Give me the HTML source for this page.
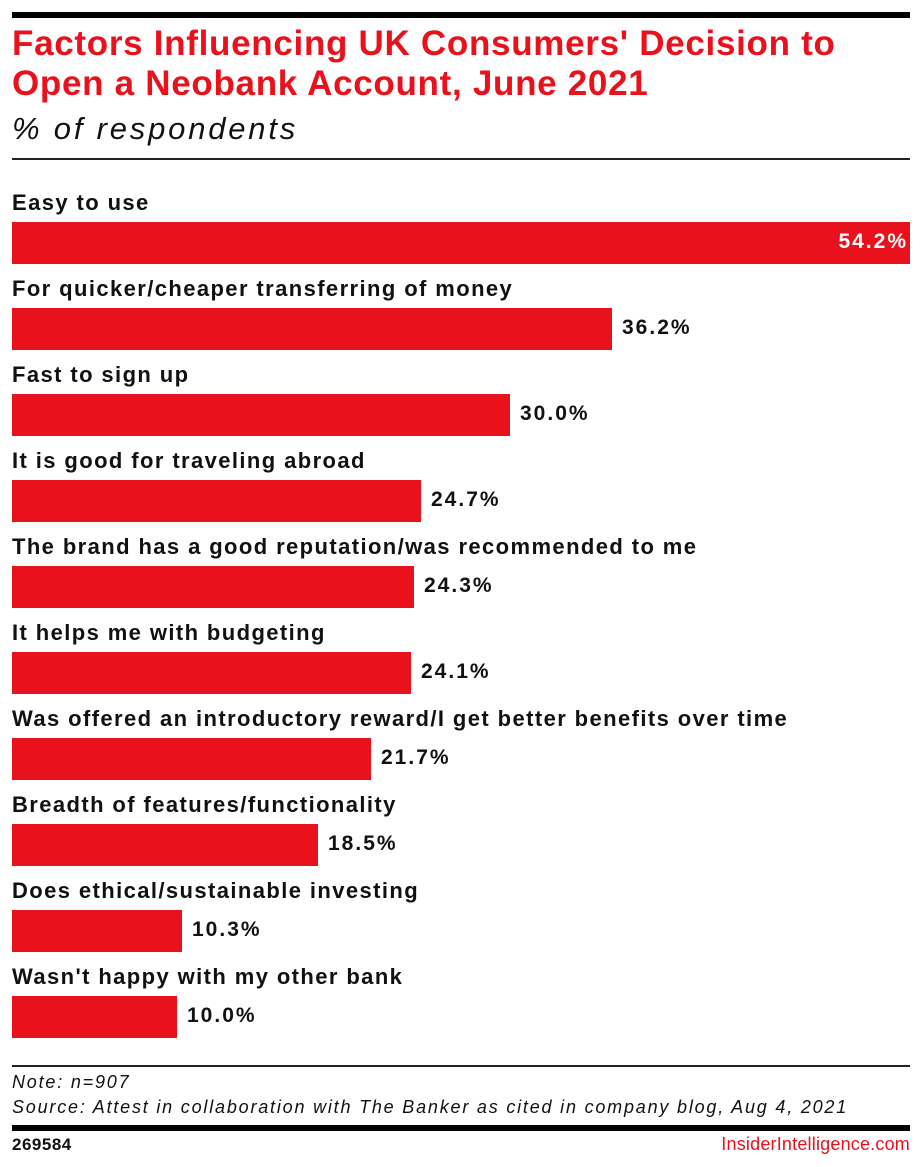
<!DOCTYPE html>
<html><head><meta charset="utf-8"><style>
body{margin:0;width:922px;height:1167px;background:#fff;position:relative;font-family:"Liberation Sans",sans-serif;overflow:hidden}
.a{position:absolute;white-space:nowrap}
.t{color:#e8111c;font-weight:bold;font-size:35px;left:12px;letter-spacing:0.7px}
.l{font-weight:bold;font-size:22px;left:12px;color:#111;letter-spacing:1.4px}
.b{position:absolute;left:12px;height:42px;background:#e8111c}
.v{font-weight:bold;font-size:21px;color:#111;letter-spacing:2px}
.n{left:12px;font-size:18px;font-style:italic;color:#111;letter-spacing:1.8px}
</style></head><body>
<div class="a" style="left:12px;top:12px;width:898px;height:6px;background:#000"></div>
<div class="a t" style="top:24px">Factors Influencing UK Consumers' Decision to</div>
<div class="a t" style="top:64px">Open a Neobank Account, June 2021</div>
<div class="a" style="left:12px;top:111px;font-size:31px;font-style:italic;color:#111;letter-spacing:2.8px">% of respondents</div>
<div class="a" style="left:12px;top:158px;width:898px;height:2px;background:#222"></div>

<div class="a l" style="top:190px">Easy to use</div>
<div class="b" style="top:222px;width:898px"></div>
<div class="a v" style="top:230px;right:14px;color:#fff">54.2%</div>

<div class="a l" style="top:276px">For quicker/cheaper transferring of money</div>
<div class="b" style="top:308px;width:600px"></div>
<div class="a v" style="top:316px;left:622px">36.2%</div>

<div class="a l" style="top:362px">Fast to sign up</div>
<div class="b" style="top:394px;width:498px"></div>
<div class="a v" style="top:402px;left:520px">30.0%</div>

<div class="a l" style="top:448px">It is good for traveling abroad</div>
<div class="b" style="top:480px;width:409px"></div>
<div class="a v" style="top:488px;left:431px">24.7%</div>

<div class="a l" style="top:534px">The brand has a good reputation/was recommended to me</div>
<div class="b" style="top:566px;width:402px"></div>
<div class="a v" style="top:574px;left:424px">24.3%</div>

<div class="a l" style="top:620px">It helps me with budgeting</div>
<div class="b" style="top:652px;width:399px"></div>
<div class="a v" style="top:660px;left:421px">24.1%</div>

<div class="a l" style="top:706px">Was offered an introductory reward/I get better benefits over time</div>
<div class="b" style="top:738px;width:359px"></div>
<div class="a v" style="top:746px;left:381px">21.7%</div>

<div class="a l" style="top:792px">Breadth of features/functionality</div>
<div class="b" style="top:824px;width:306px"></div>
<div class="a v" style="top:832px;left:328px">18.5%</div>

<div class="a l" style="top:878px">Does ethical/sustainable investing</div>
<div class="b" style="top:910px;width:170px"></div>
<div class="a v" style="top:918px;left:192px">10.3%</div>

<div class="a l" style="top:964px">Wasn't happy with my other bank</div>
<div class="b" style="top:996px;width:165px"></div>
<div class="a v" style="top:1004px;left:187px">10.0%</div>

<div class="a" style="left:12px;top:1065px;width:898px;height:2px;background:#222"></div>
<div class="a n" style="top:1072px">Note: n=907</div>
<div class="a n" style="top:1097px">Source: Attest in collaboration with The Banker as cited in company blog, Aug 4, 2021</div>
<div class="a" style="left:12px;top:1125px;width:898px;height:6px;background:#000"></div>
<div class="a" style="left:12px;top:1135px;font-size:17px;font-weight:bold;color:#111;letter-spacing:0.5px">269584</div>
<div class="a" style="right:12px;top:1134px;font-size:18px;color:#e8111c;letter-spacing:0.2px">InsiderIntelligence.com</div>
</body></html>
